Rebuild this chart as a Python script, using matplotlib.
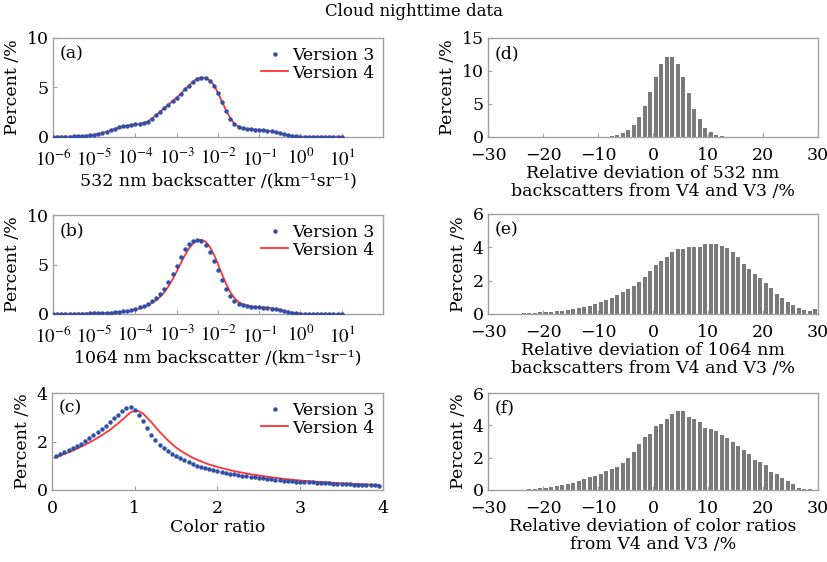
import numpy as np
import matplotlib
matplotlib.use('Agg')
import matplotlib.pyplot as plt
from matplotlib.ticker import FuncFormatter

# ---- data ----
# backscatter histograms: bin centres as log10(km^-1 sr^-1)
bs_exp = np.round(np.arange(-6.0, 1.05, 0.1), 1)

b532_v3 = [0.03, 0.03, 0.04, 0.04, 0.05, 0.06, 0.08, 0.10, 0.13, 0.18,
           0.24, 0.32, 0.42, 0.55, 0.70, 0.85, 0.98, 1.08, 1.16, 1.22,
           1.27, 1.32, 1.40, 1.55, 1.85, 2.20, 2.55, 2.90, 3.25, 3.60,
           3.95, 4.35, 4.80, 5.20, 5.60, 5.90, 6.00, 5.95, 5.70, 5.20,
           4.40, 3.50, 2.60, 1.85, 1.30, 1.00, 0.88, 0.82, 0.78, 0.75,
           0.72, 0.68, 0.63, 0.57, 0.48, 0.38, 0.27, 0.18, 0.11, 0.07,
           0.05, 0.03, 0.03, 0.03, 0.03, 0.03, 0.03, 0.03, 0.03, 0.03, 0.03]
b532_v4 = [0.03, 0.03, 0.04, 0.04, 0.05, 0.06, 0.08, 0.10, 0.13, 0.17,
           0.23, 0.31, 0.41, 0.54, 0.68, 0.83, 0.96, 1.07, 1.15, 1.21,
           1.27, 1.33, 1.42, 1.58, 1.87, 2.22, 2.57, 2.92, 3.27, 3.62,
           3.98, 4.38, 4.82, 5.22, 5.62, 5.92, 6.02, 5.97, 5.72, 5.25,
           4.45, 3.55, 2.65, 1.90, 1.33, 1.02, 0.89, 0.83, 0.79, 0.76,
           0.73, 0.69, 0.64, 0.58, 0.49, 0.39, 0.28, 0.18, 0.11, 0.07,
           0.05, 0.03, 0.03, 0.03, 0.03, 0.03, 0.03, 0.03, 0.03, 0.03, 0.03]

b1064_v3 = [0.02, 0.02, 0.02, 0.03, 0.03, 0.03, 0.04, 0.04, 0.05, 0.06,
            0.07, 0.08, 0.10, 0.12, 0.15, 0.18, 0.22, 0.28, 0.34, 0.40,
            0.55, 0.70, 0.85, 1.05, 1.30, 1.60, 2.00, 2.50, 3.20, 4.00,
            4.85, 5.80, 6.55, 7.05, 7.35, 7.45, 7.35, 6.95, 6.30, 5.40,
            4.40, 3.40, 2.55, 1.85, 1.35, 1.05, 0.88, 0.78, 0.72, 0.69,
            0.66, 0.63, 0.59, 0.54, 0.47, 0.39, 0.29, 0.19, 0.11, 0.06,
            0.03, 0.02, 0.02, 0.02, 0.02, 0.02, 0.02, 0.02, 0.02, 0.02, 0.02]
b1064_v4 = [0.02, 0.02, 0.02, 0.03, 0.03, 0.03, 0.04, 0.04, 0.05, 0.06,
            0.07, 0.08, 0.09, 0.11, 0.13, 0.16, 0.19, 0.24, 0.29, 0.36,
            0.45, 0.55, 0.70, 0.88, 1.10, 1.38, 1.75, 2.20, 2.80, 3.50,
            4.30, 5.15, 5.95, 6.65, 7.15, 7.45, 7.50, 7.30, 6.80, 6.00,
            5.05, 4.00, 3.00, 2.20, 1.60, 1.20, 0.98, 0.86, 0.78, 0.74,
            0.71, 0.68, 0.65, 0.60, 0.53, 0.44, 0.33, 0.22, 0.13, 0.07,
            0.04, 0.02, 0.02, 0.02, 0.02, 0.02, 0.02, 0.02, 0.02, 0.02, 0.02]

# colour ratio distribution
cr_v3_x = np.round(np.arange(0.05, 3.96, 0.05), 2)
cr_v3 = [1.40, 1.47, 1.55, 1.63, 1.72, 1.81, 1.91, 2.02, 2.13, 2.25,
         2.38, 2.51, 2.65, 2.80, 2.95, 3.10, 3.25, 3.38, 3.42, 3.30,
         3.10, 2.85, 2.55, 2.28, 2.05, 1.87, 1.72, 1.60, 1.50, 1.42,
         1.32, 1.23, 1.15, 1.08, 1.01, 0.95, 0.90, 0.85, 0.82, 0.77,
         0.73, 0.70, 0.67, 0.64, 0.61, 0.58, 0.56, 0.54, 0.52, 0.50,
         0.48, 0.46, 0.44, 0.42, 0.40, 0.39, 0.37, 0.36, 0.35, 0.34,
         0.33, 0.32, 0.31, 0.30, 0.29, 0.28, 0.27, 0.26, 0.25, 0.245,
         0.24, 0.23, 0.22, 0.215, 0.21, 0.20, 0.195, 0.19, 0.185]
cr_v4_x = [0.03, 0.1, 0.2, 0.3, 0.4, 0.5, 0.6, 0.7, 0.8, 0.9, 0.95, 1.0,
           1.05, 1.1, 1.2, 1.3, 1.4, 1.5, 1.6, 1.7, 1.8, 1.9, 2.0, 2.2,
           2.4, 2.6, 2.8, 3.0, 3.2, 3.4, 3.6, 3.8, 3.95]
cr_v4 = [1.33, 1.42, 1.55, 1.70, 1.87, 2.05, 2.25, 2.48, 2.75, 3.05, 3.20, 3.27,
         3.25, 3.15, 2.80, 2.40, 2.05, 1.75, 1.52, 1.33, 1.18, 1.05, 0.95, 0.78,
         0.65, 0.55, 0.46, 0.39, 0.34, 0.30, 0.26, 0.23, 0.21]

# relative deviation histograms (1 % bins, centres -29.5 ... 29.5)
dev_centres = np.arange(-29.5, 30.0, 1.0)
dev_532 = [0, 0, 0, 0, 0, 0, 0, 0, 0, 0,
           0, 0, 0, 0, 0, 0, 0, 0, 0, 0,
           0, 0.05, 0.10, 0.35, 0.65, 1.10, 1.85, 3.00, 4.65, 6.80,
           9.10, 11.0, 12.1, 12.1, 11.0, 9.10, 6.70, 4.30, 2.70, 1.40,
           0.70, 0.30, 0.15, 0, 0, 0, 0, 0, 0, 0,
           0, 0, 0, 0, 0, 0, 0, 0, 0, 0]
dev_1064 = [0, 0, 0, 0, 0, 0.02, 0.04, 0.06, 0.08, 0.10,
            0.12, 0.14, 0.16, 0.18, 0.22, 0.28, 0.34, 0.40, 0.50, 0.60,
            0.70, 0.84, 0.98, 1.14, 1.30, 1.50, 1.70, 1.94, 2.22, 2.58,
            2.94, 3.20, 3.44, 3.74, 3.88, 3.92, 4.02, 4.02, 4.04, 4.18,
            4.22, 4.20, 4.10, 3.98, 3.74, 3.40, 3.00, 2.70, 2.42, 2.16,
            1.88, 1.56, 1.22, 0.96, 0.70, 0.56, 0.38, 0.26, 0.20, 0.30]
dev_cr = [0, 0, 0, 0, 0, 0.02, 0.03, 0.05, 0.07, 0.10,
          0.14, 0.18, 0.22, 0.28, 0.37, 0.45, 0.55, 0.65, 0.78, 0.85,
          0.98, 1.15, 1.30, 1.45, 1.70, 2.00, 2.35, 2.85, 3.25, 3.45,
          3.95, 4.08, 4.39, 4.72, 4.90, 4.90, 4.50, 4.39, 4.23, 3.86,
          3.77, 3.65, 3.40, 3.20, 3.00, 2.74, 2.50, 2.20, 1.84, 1.75,
          1.55, 1.13, 0.97, 0.72, 0.56, 0.35, 0.15, 0.08, 0.04, 0]

# ---- style ----
plt.rcParams['font.family'] = ['DejaVu Serif', 'DejaVu Sans']
plt.rcParams['mathtext.fontset'] = 'stix'
FS = 12.5
BLUE = '#2F4FA8'
RED = '#FF3333'
GRAY = '#7A7A7A'
SPINE = '#A0A0A0'

W, H = 828, 562


def box(l, t, r, b):
    return [l / W, 1 - b / H, (r - l) / W, (b - t) / H]


def style(ax):
    for s in ax.spines.values():
        s.set_color(SPINE)
        s.set_linewidth(1.0)
    ax.tick_params(which='both', direction='in', color=SPINE, labelsize=FS,
                   top=False, right=False)
    ax.tick_params(axis='x', pad=7)
    ax.tick_params(axis='y', pad=3)
    ax.tick_params(which='major', length=3)
    ax.tick_params(which='minor', length=2)


# compact power-of-ten labels (narrow STIX digits), like the original
pow_fmt = FuncFormatter(lambda v, p: r'$10^{%d}$' % int(round(np.log10(v))))

fig = plt.figure(figsize=(W / 100, H / 100), dpi=100)
fig.text(0.5, 1 - 12 / H, 'Cloud nighttime data', ha='center', va='center', fontsize=12)

# left column: version comparison
left_axes = [
    (box(53, 38, 383, 137), 10 ** bs_exp, b532_v3, 10 ** bs_exp, b532_v4, 10, [0, 5, 10],
     '532 nm backscatter /(km⁻¹sr⁻¹)', '(a)', True),
    (box(53, 215, 383, 314), 10 ** bs_exp, b1064_v3, 10 ** bs_exp, b1064_v4, 10, [0, 5, 10],
     '1064 nm backscatter /(km⁻¹sr⁻¹)', '(b)', True),
    (box(52, 393, 383, 490), cr_v3_x, cr_v3, cr_v4_x, cr_v4, 4, [0, 2, 4],
     'Color ratio', '(c)', False),
]
for pos, x3, y3, x4, y4, ymax, yt, xlab, tag, logx in left_axes:
    ax = fig.add_axes(pos)
    ax.plot(x3, y3, linestyle='none', marker='o', ms=2.2, color=BLUE, label='Version 3', zorder=3)
    ax.plot(x4, y4, color=RED, lw=1.3, label='Version 4', zorder=2)
    if logx:
        ax.set_xscale('log')
        ax.set_xlim(1e-6, 1e2)
        ax.set_xticks([1e-6, 1e-5, 1e-4, 1e-3, 1e-2, 1e-1, 1e0, 1e1])
        ax.xaxis.set_major_formatter(pow_fmt)
    else:
        ax.set_xlim(0, 4)
        ax.set_xticks([0, 1, 2, 3, 4])
    ax.set_ylim(0, ymax)
    ax.set_yticks(yt)
    style(ax)
    if logx:
        ax.tick_params(axis='x', labelsize=13.5, pad=8)
    ax.set_xlabel(xlab, fontsize=FS, labelpad=2)
    ax.set_ylabel('Percent /%', fontsize=FS, labelpad=4)
    ax.text(0.02, 0.93, tag, transform=ax.transAxes, ha='left', va='top', fontsize=FS)
    ax.legend(loc='upper right', frameon=False, fontsize=FS, numpoints=1,
              handlelength=1.6, handletextpad=0.2, labelspacing=0.05,
              borderaxespad=0.1, markerscale=1.0)

# right column: relative deviations
right_axes = [
    (box(488, 38, 818, 137), dev_532, 15, [0, 5, 10, 15],
     'Relative deviation of 532 nm\nbackscatters from V4 and V3 /%', '(d)'),
    (box(488, 214, 818, 314), dev_1064, 6, [0, 2, 4, 6],
     'Relative deviation of 1064 nm\nbackscatters from V4 and V3 /%', '(e)'),
    (box(488, 393, 818, 490), dev_cr, 6, [0, 2, 4, 6],
     'Relative deviation of color ratios\nfrom V4 and V3 /%', '(f)'),
]
for pos, vals, ymax, yt, xlab, tag in right_axes:
    ax = fig.add_axes(pos)
    ax.bar(dev_centres, vals, width=0.68, color=GRAY, edgecolor='none')
    ax.set_xlim(-30, 30)
    ax.set_xticks([-30, -20, -10, 0, 10, 20, 30])
    ax.set_ylim(0, ymax)
    ax.set_yticks(yt)
    style(ax)
    ax.set_xlabel(xlab, fontsize=FS, labelpad=1, linespacing=1.05)
    ax.set_ylabel('Percent /%', fontsize=FS, labelpad=4)
    ax.text(0.02, 0.93, tag, transform=ax.transAxes, ha='left', va='top', fontsize=FS)

plt.savefig('out.png', dpi=100)
